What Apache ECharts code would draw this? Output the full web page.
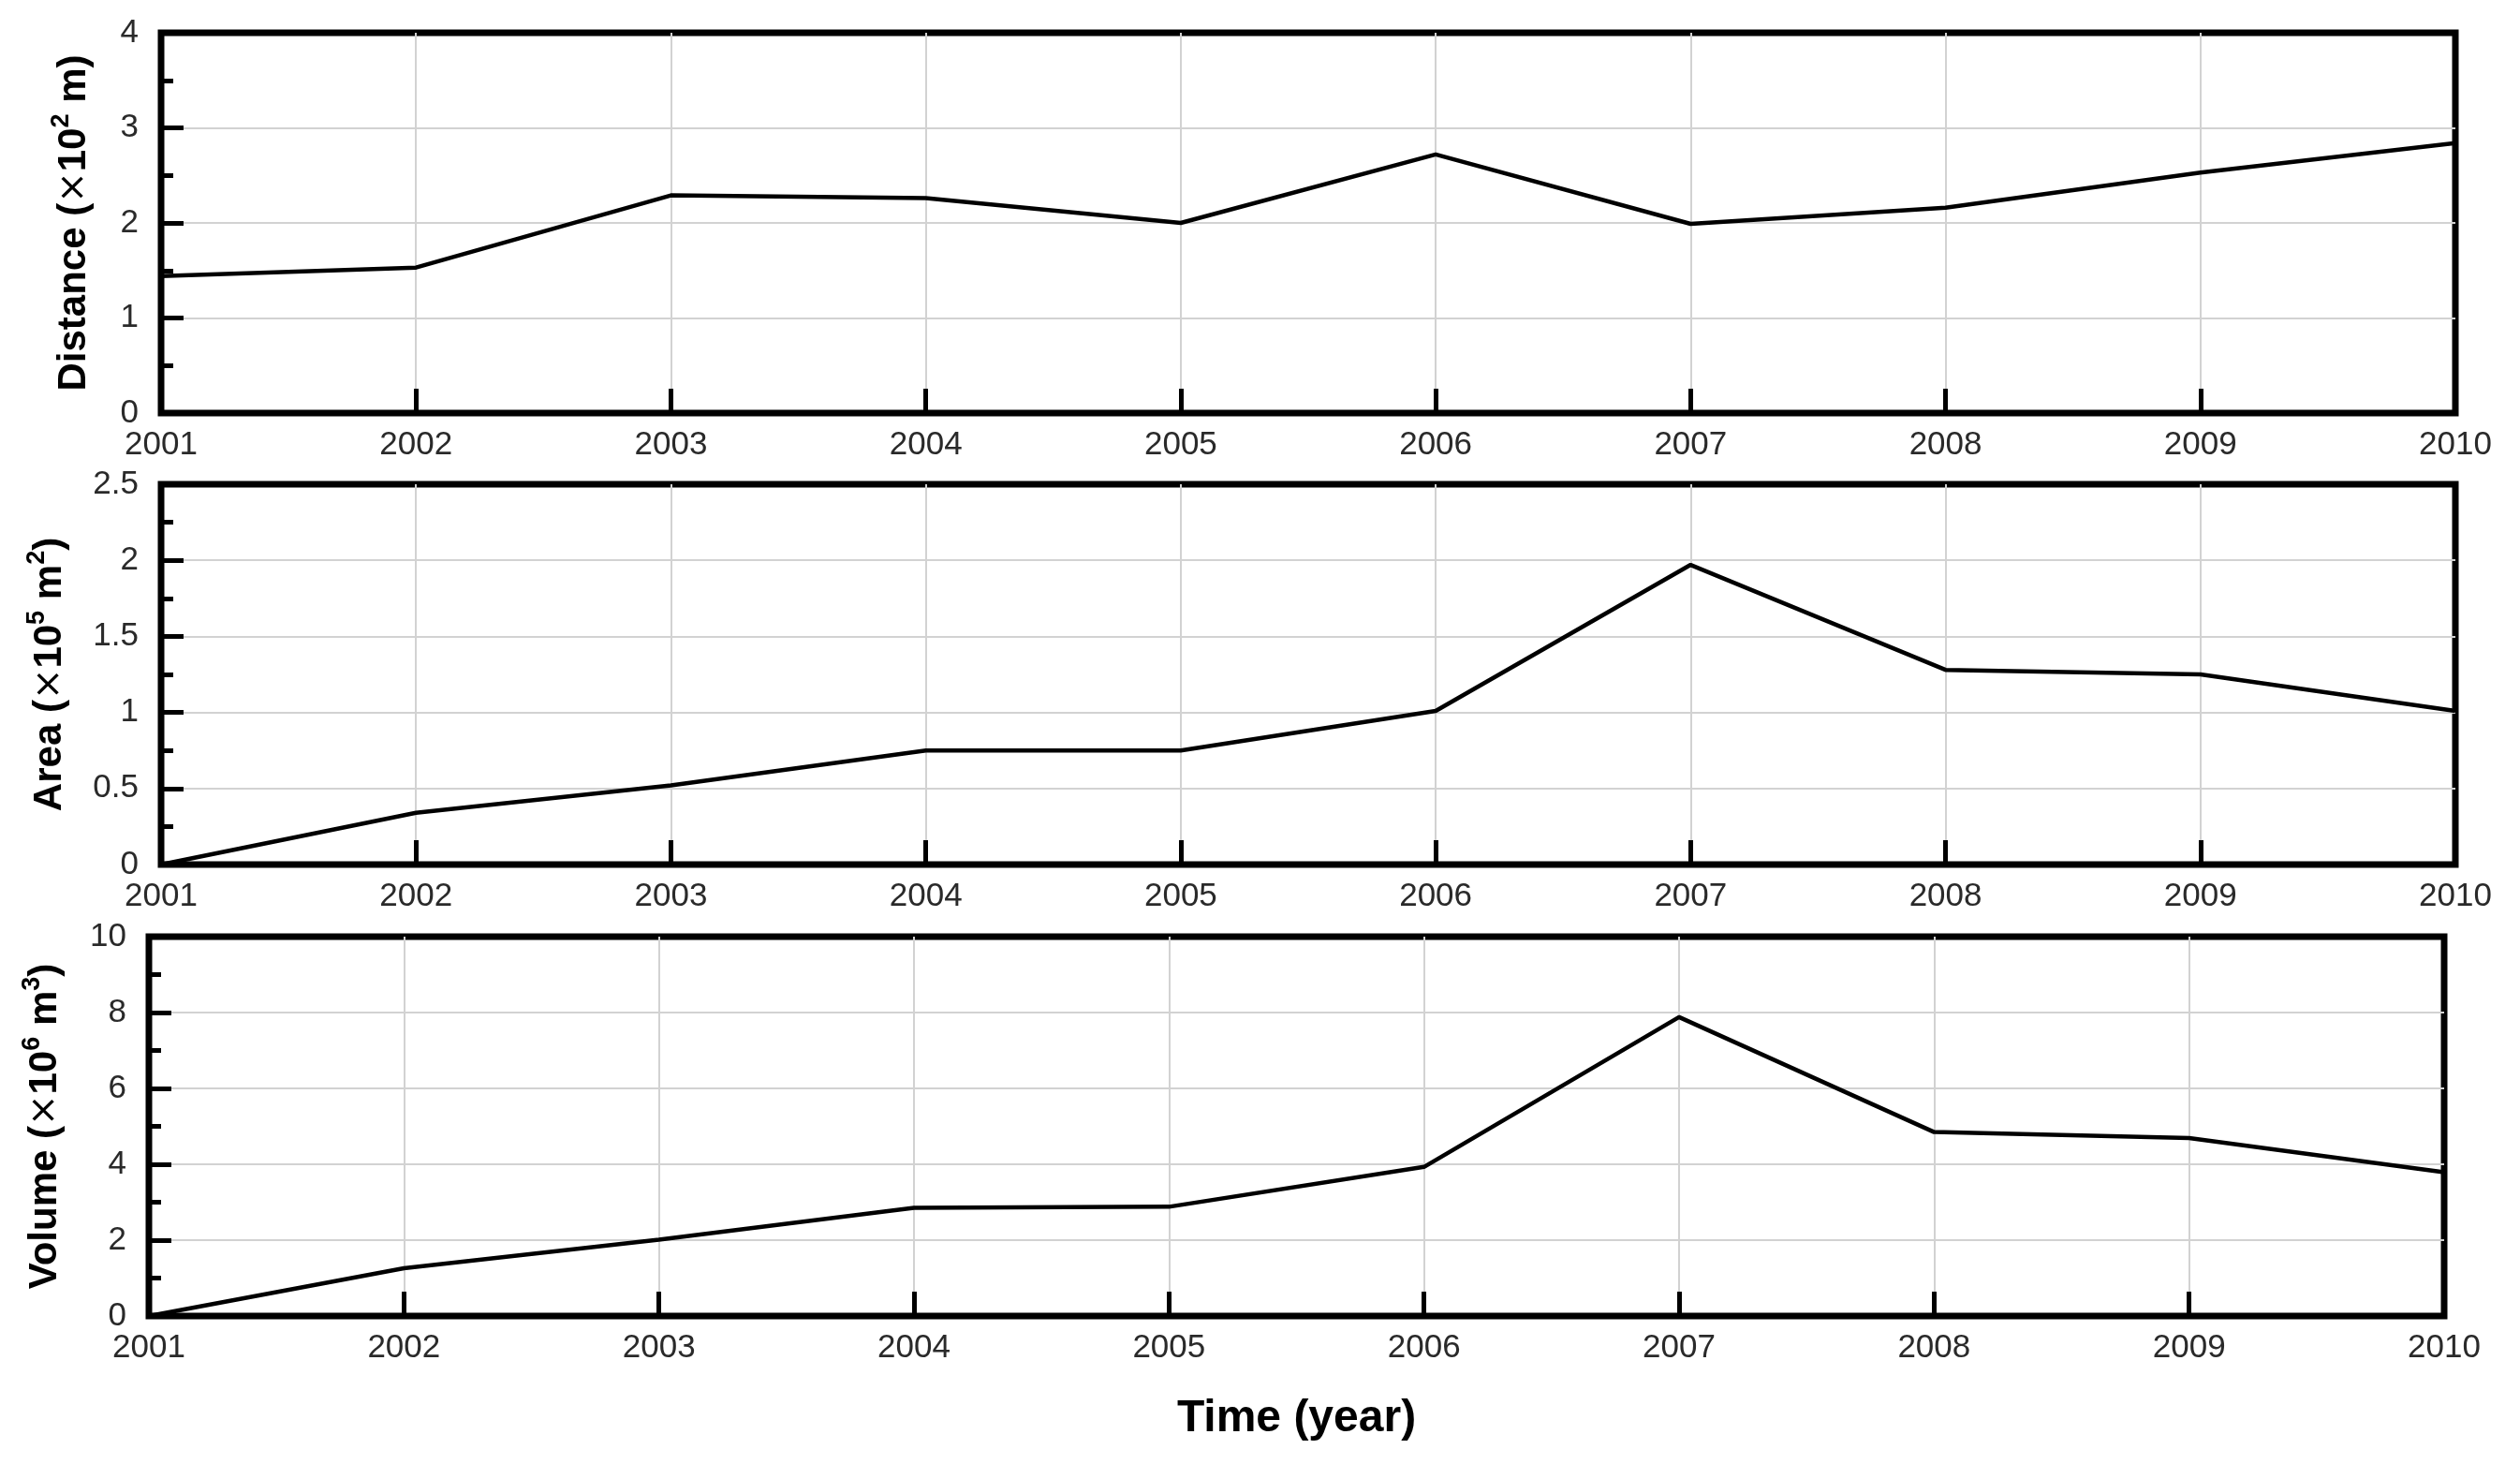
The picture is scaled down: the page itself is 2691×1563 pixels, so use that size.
<!DOCTYPE html>
<html>
<head>
<meta charset="utf-8">
<script src="https://cdn.jsdelivr.net/npm/echarts@6/dist/echarts.min.js"></script>
<style>
html,body{margin:0;padding:0;background:#fff;}
#chart{width:2691px;height:1563px;}
</style>
</head>
<body>
<div id="chart"></div>
<script>
const years = ['2001','2002','2003','2004','2005','2006','2007','2008','2009','2010'];
const distance = [1.44, 1.53, 2.29, 2.26, 2.00, 2.72, 1.99, 2.16, 2.53, 2.84];
const area = [0.0, 0.34, 0.52, 0.75, 0.75, 1.01, 1.97, 1.28, 1.25, 1.01];
const volume = [0.0, 1.26, 2.01, 2.85, 2.88, 3.93, 7.88, 4.85, 4.69, 3.79];
const yRanges = [
  {min: 0, max: 4, interval: 1},
  {min: 0, max: 2.5, interval: 0.5},
  {min: 0, max: 10, interval: 2}
];
const yNames = [
  '{t|Distance (}{x|×}{t|10}{s|2}{t| m)}',
  '{t|Area (}{x|×}{t|10}{s|5}{t| m}{s|2}{t|)}',
  '{t|Volume (}{x|×}{t|10}{s|6}{t| m}{s|3}{t|)}'
];
const xTitle = 'Time (year)';

const FONT = '"Liberation Sans", Arial, Helvetica, sans-serif';
const grids = [
  {left: 172, top: 35, width: 2450, height: 406},
  {left: 172, top: 517, width: 2450, height: 406},
  {left: 159, top: 1000, width: 2451, height: 405}
];
const nameGaps = [72, 98, 90];
const seriesData = [distance, area, volume];

const option = {
  backgroundColor: '#fff',
  animation: false,
  grid: grids.map(g => Object.assign({show: true, borderColor: '#000', borderWidth: 7, backgroundColor: 'transparent'}, g)),
  xAxis: grids.map((g, i) => ({
    type: 'category',
    gridIndex: i,
    data: years,
    boundaryGap: false,
    axisLine: {show: false},
    axisTick: {show: true, inside: true, length: 26, interval: 0, lineStyle: {color: '#000', width: 5}},
    axisLabel: {show: true, interval: 0, margin: 17, fontSize: 35, color: '#2a2a2a', fontFamily: FONT},
    splitLine: {show: true, interval: 0, showMinLine: false, showMaxLine: false, lineStyle: {color: '#d2d2d2', width: 2}},
    name: i === 2 ? xTitle : '',
    nameLocation: 'middle',
    nameGap: 86,
    nameTextStyle: {fontSize: 48, fontWeight: 'bold', color: '#000', fontFamily: FONT}
  })),
  yAxis: grids.map((g, i) => ({
    type: 'value',
    gridIndex: i,
    min: yRanges[i].min,
    max: yRanges[i].max,
    interval: yRanges[i].interval,
    axisLine: {show: false},
    axisTick: {show: true, inside: true, length: 24, lineStyle: {color: '#000', width: 5}},
    minorTick: {show: true, splitNumber: 2, length: 13, lineStyle: {color: '#000', width: 5}},
    axisLabel: {show: true, margin: 24, fontSize: 35, color: '#2a2a2a', fontFamily: FONT},
    splitLine: {show: true, showMinLine: false, showMaxLine: false, lineStyle: {color: '#d2d2d2', width: 2}},
    name: yNames[i],
    nameLocation: 'middle',
    nameRotate: 90,
    nameGap: nameGaps[i],
    nameTextStyle: {
      color: '#000',
      fontFamily: FONT,
      rich: {
        t: {fontSize: 42, fontWeight: 'bold', color: '#000', fontFamily: FONT, lineHeight: 48, verticalAlign: 'bottom'},
        x: {fontSize: 40, fontWeight: 'normal', color: '#000', fontFamily: '"DejaVu Sans", sans-serif', lineHeight: 48, verticalAlign: 'bottom'},
        s: {fontSize: 27, fontWeight: 'bold', color: '#000', fontFamily: FONT, lineHeight: 48, verticalAlign: 'top'}
      }
    }
  })),
  series: seriesData.map((d, i) => ({
    type: 'line',
    xAxisIndex: i,
    yAxisIndex: i,
    data: d,
    showSymbol: false,
    symbol: 'none',
    lineStyle: {color: '#000', width: 4.5},
    z: 3
  }))
};

const chart = echarts.init(document.getElementById('chart'), null, {renderer: 'canvas'});
chart.setOption(option);
</script>
</body>
</html>
